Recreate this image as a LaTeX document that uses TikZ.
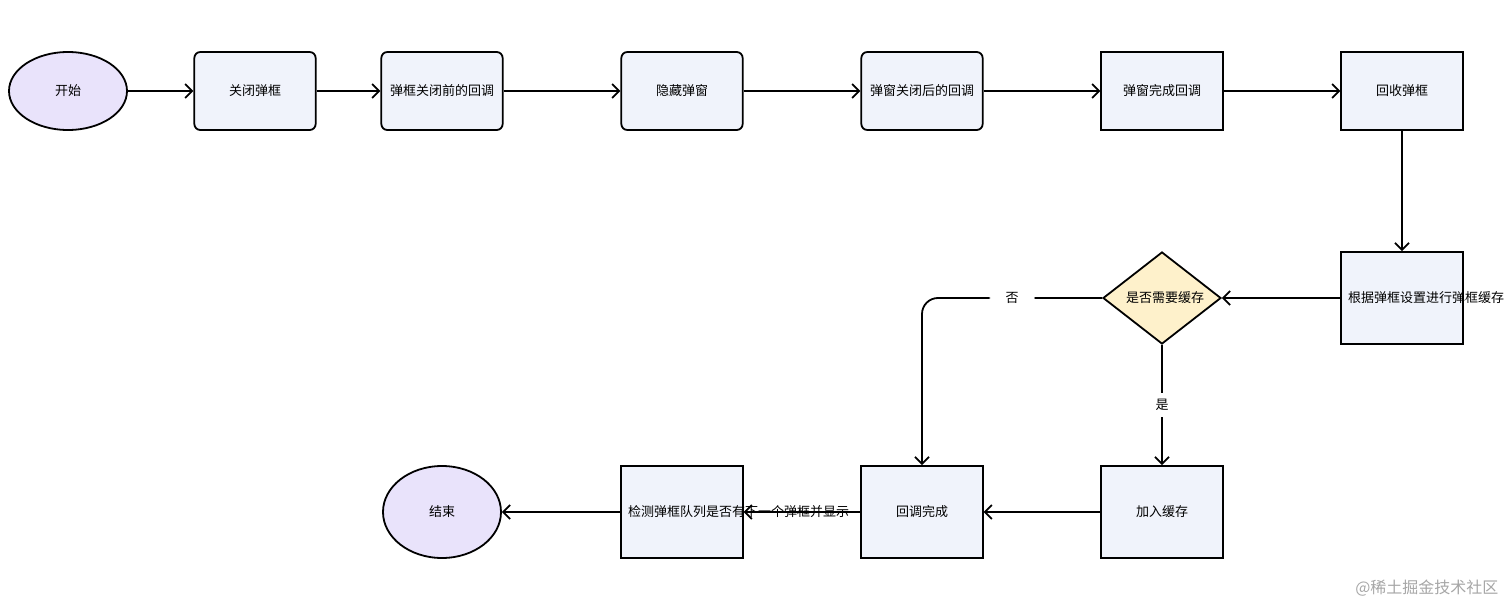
\documentclass[tikz,border=0pt]{standalone}
\usepackage{fontspec}
\setmainfont{Noto Sans CJK SC}
\usetikzlibrary{shapes.geometric,arrows.meta}
\definecolor{boxf}{HTML}{F0F3FB}
\definecolor{termf}{HTML}{E9E3FB}
\definecolor{decf}{HTML}{FEF1CB}
\begin{document}
\begin{tikzpicture}[x=0.5pt,y=-0.5pt,
  every node/.style={font=\fontsize{6.5}{9}\selectfont, align=center, line width=0.9pt},
  box/.style={draw, fill=boxf, minimum width=59pt, minimum height=39pt, text width=54pt},
  rbox/.style={box, rounded corners=3pt},
  tall/.style={box, minimum height=46pt},
  term/.style={draw, fill=termf, ellipse, minimum width=59pt, minimum height=39pt},
  dec/.style={draw, fill=decf, diamond, minimum width=59pt, minimum height=46pt, inner sep=0pt, text width=36pt},
  arr/.style={draw, line width=0.9pt, -{Straight Barb[length=3.5pt,width=7pt]}}]
\useasboundingbox (0,0) rectangle (1512,605);
\node[term] (s) at (68,91) {开始};
\node[rbox] (b1) at (255,91) {关闭弹框};
\node[rbox] (b2) at (442,91) {弹框关闭前的回调};
\node[rbox] (b3) at (682,91) {隐藏弹窗};
\node[rbox] (b4) at (922,91) {弹窗关闭后的回调};
\node[box] (b5) at (1162,91) {弹窗完成回调};
\node[box] (b6) at (1402,91) {回收弹框};
\node[tall] (b7) at (1402,298) {根据弹框设置进行弹框缓存};
\node[dec] (d) at (1162,298) {是否需要缓存};
\node[tall] (b8) at (1162,512) {加入缓存};
\node[tall] (b9) at (922,512) {回调完成};
\node[tall] (b10) at (682,512) {检测弹框队列是否有下一个弹框并显示};
\node[term, minimum height=46pt] (e) at (442,512) {结束};
\draw[arr] (s) -- (b1);
\draw[arr] (b1) -- (b2);
\draw[arr] (b2) -- (b3);
\draw[arr] (b3) -- (b4);
\draw[arr] (b4) -- (b5);
\draw[arr] (b5) -- (b6);
\draw[arr] (b6) -- (b7);
\draw[arr] (b7) -- (d);
\draw[arr] (d) -- node[fill=white, inner sep=3pt] {是} (b8);
\draw[arr, rounded corners=8pt] (d.west) -- node[pos=0.5, fill=white, inner xsep=8pt] {否} (922,298) -- (b9.north);
\draw[arr] (b8) -- (b9);
\draw[arr] (b9) -- (b10);
\draw[arr] (b10) -- (e);
\node[text=gray!70, font=\fontsize{8}{10}\selectfont, anchor=east] (wm) at (1506,588) {@稀土掘金技术社区};
\end{tikzpicture}
\end{document}
